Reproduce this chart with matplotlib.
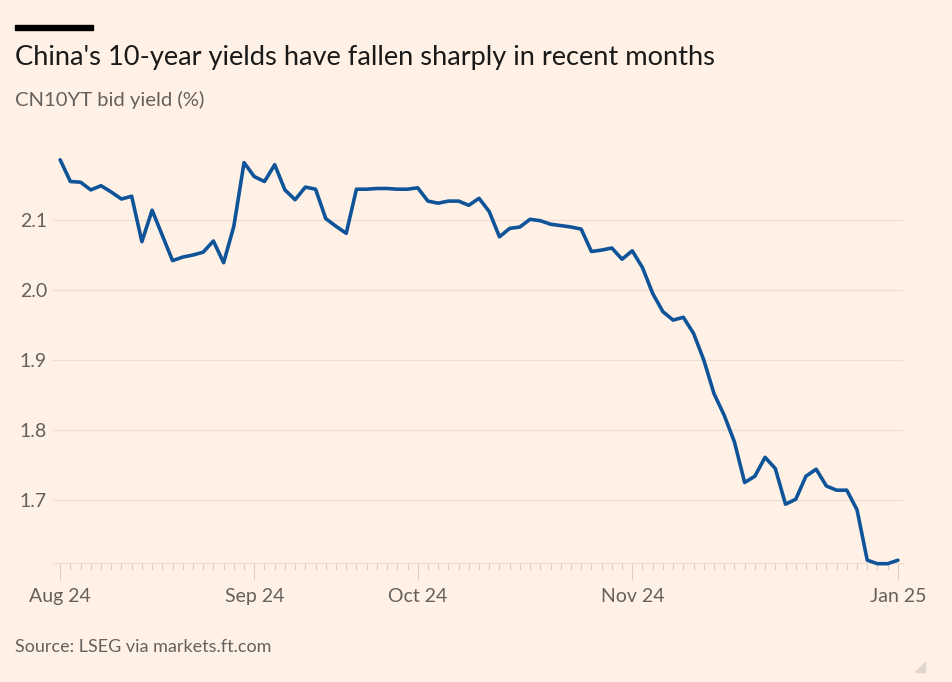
import matplotlib
matplotlib.use('Agg')
import matplotlib.pyplot as plt
from matplotlib.patches import Rectangle, Polygon

# China 10 year yield, one value per trading day
yields = [2.186, 2.155, 2.154, 2.143, 2.149, 2.140, 2.130, 2.134, 2.069, 2.114,
          2.078, 2.042, 2.047, 2.050, 2.054, 2.070, 2.039, 2.091, 2.182, 2.162,
          2.155, 2.179, 2.143, 2.129, 2.147, 2.144, 2.102, 2.091, 2.081, 2.144,
          2.144, 2.145, 2.145, 2.144, 2.144, 2.146, 2.127, 2.124, 2.127, 2.127,
          2.121, 2.131, 2.112, 2.076, 2.088, 2.090, 2.101, 2.099, 2.094, 2.092,
          2.090, 2.087, 2.055, 2.057, 2.060, 2.044, 2.056, 2.032, 1.995, 1.969,
          1.957, 1.961, 1.938, 1.900, 1.852, 1.821, 1.783, 1.725, 1.734, 1.761,
          1.745, 1.694, 1.701, 1.734, 1.744, 1.720, 1.714, 1.714, 1.686, 1.614,
          1.609, 1.609, 1.614]
dias = list(range(len(yields)))

etiquetas = ['Aug 24', 'Sep 24', 'Oct 24', 'Nov 24', 'Jan 25']
pos_etiquetas = [0, 19, 35, 56, 82]
yticks = [1.7, 1.8, 1.9, 2.0, 2.1]

fondo = '#FFF1E5'
gris = '#66605C'
azul = '#0F5499'

plt.rcParams['font.family'] = ['Lato', 'DejaVu Sans']

fig = plt.figure(figsize=(9.52, 6.82), dpi=100, facecolor=fondo)
W, H = 952, 682
ax = fig.add_axes([53 / W, 1 - 563 / H, (903 - 53) / W, (563 - 150) / H])
ax.set_facecolor(fondo)

ax.plot(dias, yields, color=azul, linewidth=2.6, solid_joinstyle='round',
        solid_capstyle='round', clip_on=False, zorder=3)

ax.set_xlim(-0.7, 82.5)
ax.set_ylim(1.61, 2.2)

ax.set_yticks(yticks)
ax.set_yticklabels(['1.7', '1.8', '1.9', '2.0', '2.1'])
ax.yaxis.grid(True, color='#EFDDD1', linewidth=0.9)
ax.tick_params(axis='y', length=0, pad=24, labelsize=14, labelcolor=gris)
for lab in ax.get_yticklabels():
    lab.set_horizontalalignment('left')

ax.set_xticks(pos_etiquetas)
ax.set_xticklabels(etiquetas)
ax.set_xticks(dias, minor=True)
ax.tick_params(axis='x', which='major', length=12, width=0.8, color='#DCCFC5',
               labelsize=14, labelcolor=gris, pad=6)
ax.tick_params(axis='x', which='minor', length=5, width=0.8, color='#DCCFC5')

for s in ['top', 'right', 'left']:
    ax.spines[s].set_visible(False)
ax.spines['bottom'].set_color('#EEDDD2')
ax.spines['bottom'].set_linewidth(0.8)

# barra negra y textos
fig.patches.append(Rectangle((15 / W, 1 - 30 / H), 78 / W, 5 / H, transform=fig.transFigure,
                             color='black'))
fig.text(15 / W, 1 - 58 / H, "China's 10-year yields have fallen sharply in recent months",
         fontsize=19.6, color='#1A1A1A', va='center', ha='left')
fig.text(15 / W, 1 - 100 / H, 'CN10YT bid yield (%)', fontsize=14.6, color=gris,
         va='center', ha='left')
fig.text(15 / W, 1 - 647 / H, 'Source: LSEG via markets.ft.com', fontsize=13, color=gris,
         va='center', ha='left')
fig.patches.append(Polygon([(925 / W, 1 - 662 / H), (925 / W, 1 - 672 / H), (915 / W, 1 - 672 / H)],
                           closed=True, transform=fig.transFigure, color='#E0D6CE'))

plt.savefig('out.png', dpi=100, facecolor=fondo)
